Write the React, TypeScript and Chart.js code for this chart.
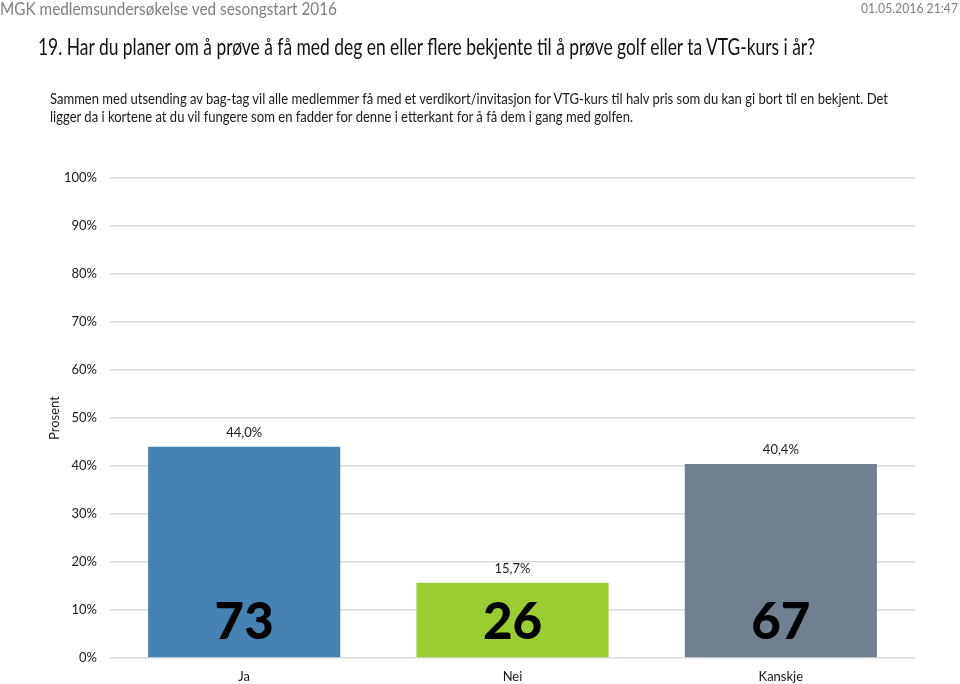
import React, { useEffect, useLayoutEffect, useRef } from "react";
import { Chart, registerables } from "chart.js";

Chart.register(...registerables);

const CATEGORIES = ["Ja", "Nei", "Kanskje"];
const PERCENTS = [44.0, 15.7, 40.4];
const COUNTS = [73, 26, 67];
const COLORS = ["#4682B4", "#9ACD32", "#708090"];
const Y_MIN = 0;
const Y_MAX = 100;
const Y_STEP = 10;

const HEADER = "MGK medlemsundersøkelse ved sesongstart 2016";
const DATE = "01.05.2016 21:47";
const TITLE =
  "19. Har du planer om å prøve å få med deg en eller flere bekjente til å prøve golf eller ta VTG-kurs i år?";
const DESC_1 =
  "Sammen med utsending av bag-tag vil alle medlemmer få med et verdikort/invitasjon for VTG-kurs til halv pris som du kan gi bort til en bekjent. Det";
const DESC_2 =
  "ligger da i kortene at du vil fungere som en fadder for denne i etterkant for å få dem i gang med golfen.";
const Y_TITLE = "Prosent";

const FONT = "Lato, 'Open Sans', sans-serif";

type FitProps = {
  text: string;
  left: number;
  centerY: number;
  width: number;
  size: number;
  color: string;
  weight?: number;
};

function FitText({ text, left, centerY, width, size, color, weight = 400 }: FitProps) {
  const ref = useRef<HTMLSpanElement>(null);
  useLayoutEffect(() => {
    const el = ref.current;
    if (!el) return;
    el.style.transform = "none";
    const w = el.getBoundingClientRect().width;
    if (w > 0) el.style.transform = `scaleX(${width / w})`;
  }, [text, width]);
  return (
    <span
      ref={ref}
      style={{
        position: "absolute",
        left,
        top: centerY - size / 2,
        fontSize: size,
        lineHeight: `${size}px`,
        height: size,
        fontFamily: FONT,
        fontWeight: weight,
        color,
        whiteSpace: "nowrap",
        transformOrigin: "0 50%",
      }}
    >
      {text}
    </span>
  );
}

const labelPlugin = {
  id: "barLabels",
  afterDatasetsDraw(chart: any) {
    const ctx = chart.ctx;
    const meta = chart.getDatasetMeta(0);
    const yScale = chart.scales.y;
    const base = yScale.getPixelForValue(0);
    meta.data.forEach((bar: any, i: number) => {
      const { x, y } = bar.getProps(["x", "y"], true);
      ctx.save();
      ctx.fillStyle = "#1a1a1a";
      ctx.textAlign = "center";
      ctx.textBaseline = "middle";
      ctx.font = `13px ${FONT}`;
      ctx.fillText(PERCENTS[i].toFixed(1).replace(".", ",") + "%", x, y - 14);
      ctx.fillStyle = "#000000";
      ctx.font = `900 51px ${FONT}`;
      ctx.fillText(String(COUNTS[i]), x, base - 35);
      ctx.restore();
    });
  },
};

function BarChart() {
  const canvasRef = useRef<HTMLCanvasElement>(null);
  useEffect(() => {
    if (!canvasRef.current) return;
    const chart = new Chart(canvasRef.current, {
      type: "bar",
      data: {
        labels: CATEGORIES,
        datasets: [
          {
            data: PERCENTS,
            backgroundColor: COLORS,
            borderWidth: 0,
            categoryPercentage: 1,
            barPercentage: 0.716,
          },
        ],
      },
      options: {
        animation: false,
        responsive: false,
        devicePixelRatio: 1,
        layout: { padding: { top: 178, right: 45, left: 0, bottom: 0 } },
        plugins: {
          legend: { display: false },
          tooltip: { enabled: false },
          title: { display: false },
        },
        scales: {
          x: {
            afterFit(scale: any) {
              scale.height = 26;
            },
            grid: { display: false, drawTicks: false },
            border: { display: false },
            ticks: {
              padding: 11,
              color: "#1a1a1a",
              font: { family: FONT, size: 13 },
            },
          },
          y: {
            min: Y_MIN,
            max: Y_MAX,
            afterFit(scale: any) {
              scale.width = 110;
            },
            grid: { color: "#dcdcdc", lineWidth: 1.5, drawTicks: false },
            border: { display: false },
            ticks: {
              stepSize: Y_STEP,
              padding: 13,
              color: "#1a1a1a",
              font: { family: FONT, size: 13 },
              callback: (v: any) => `${v}%`,
            },
            title: {
              display: true,
              text: Y_TITLE,
              color: "#1a1a1a",
              font: { family: FONT, size: 13 },
              padding: { top: 47, bottom: 0 },
            },
          },
        },
      },
      plugins: [labelPlugin],
    });
    return () => chart.destroy();
  }, []);
  return (
    <canvas
      ref={canvasRef}
      width={960}
      height={684}
      style={{ position: "absolute", left: 0, top: 0, width: 960, height: 684 }}
    />
  );
}

export default function App() {
  return (
    <div
      style={{
        position: "fixed",
        left: 0,
        top: 0,
        width: 960,
        height: 684,
        background: "#ffffff",
        overflow: "hidden",
      }}
    >
      <BarChart />
      <FitText text={HEADER} left={0} centerY={8} width={337} size={17} color="#7f7f7f" />
      <FitText text={DATE} left={861} centerY={8} width={97} size={14} color="#7f7f7f" />
      <FitText text={TITLE} left={38} centerY={46} width={777} size={24} color="#111111" />
      <FitText text={DESC_1} left={50} centerY={98} width={838} size={15} color="#1a1a1a" />
      <FitText text={DESC_2} left={50} centerY={116} width={583} size={15} color="#1a1a1a" />
    </div>
  );
}
